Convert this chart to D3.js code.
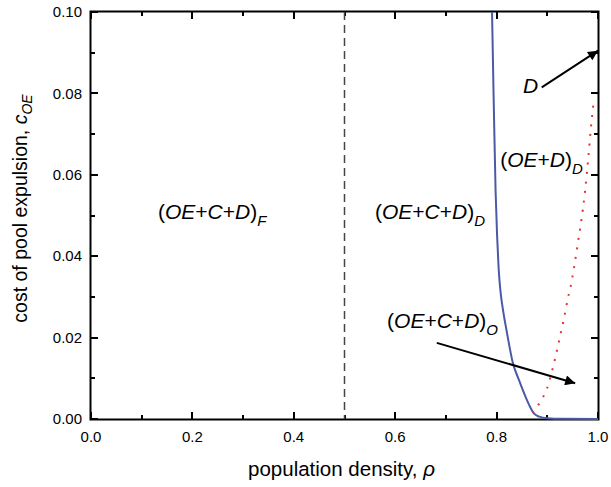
<!DOCTYPE html>
<html>
<head>
<meta charset="utf-8">
<script src="https://cdn.jsdelivr.net/npm/d3@7"></script>
<style>
  body { margin: 0; background: #fff; }
  svg { display: block; font-family: "Liberation Sans", Arial, sans-serif; }
</style>
</head>
<body>
<svg id="chart" width="611" height="487"></svg>
<script>
// boundary between OE+C+D and OE+D (blue solid)
var blueRho = [0.791, 0.794, 0.798, 0.801, 0.804, 0.808, 0.813, 0.820, 0.832, 0.844, 0.858, 0.866, 0.874, 0.884, 0.900, 0.930, 1.000];
var blueC   = [0.100, 0.080, 0.056, 0.045, 0.037, 0.031, 0.0265, 0.0215, 0.0138, 0.0096, 0.0052, 0.0030, 0.0013, 0.0006, 0.0002, 0.00005, 0.0];

// boundary between OE+D and D (red dotted)
var redRho = [0.871, 0.882, 0.891, 0.899, 0.909, 0.918, 0.926, 0.934, 0.941, 0.945, 0.960, 0.974, 0.981, 0.986, 0.992];
var redC   = [0.0015, 0.0034, 0.0052, 0.0074, 0.0116, 0.0163, 0.0208, 0.0254, 0.0299, 0.0320, 0.0430, 0.0555, 0.0644, 0.0715, 0.0786];

var criticalRho = 0.5;

var xTicks = [0.0, 0.2, 0.4, 0.6, 0.8, 1.0];
var yTicks = [0.00, 0.02, 0.04, 0.06, 0.08, 0.10];
var xMinor = [0.1, 0.3, 0.5, 0.7, 0.9];
var yMinor = [0.01, 0.03, 0.05, 0.07, 0.09];

// region labels: main text, subscript, anchor (rho, c)
var labelText = ["(OE+C+D)", "(OE+C+D)", "(OE+D)", "D", "(OE+C+D)"];
var labelSub  = ["F", "D", "D", "", "O"];
var labelRho  = [0.132, 0.560, 0.807, 0.852, 0.584];
var labelC    = [0.0491, 0.0491, 0.0619, 0.0801, 0.0224];

// arrows: from (rho, c) to (rho, c)
var arrowFrom = [[0.889, 0.0815], [0.682, 0.0187]];
var arrowTo   = [[1.000, 0.0905], [0.955, 0.0088]];

var margin = {top: 12, right: 13, bottom: 68, left: 91},
    width = 611 - margin.left - margin.right,
    height = 487 - margin.top - margin.bottom;

var svg = d3.select("#chart");

svg.append("defs").append("marker")
    .attr("id", "head")
    .attr("viewBox", "0 0 10 10")
    .attr("refX", 10).attr("refY", 5)
    .attr("markerWidth", 7.5).attr("markerHeight", 5)
    .attr("markerUnits", "strokeWidth")
    .attr("orient", "auto")
  .append("path")
    .attr("d", "M0,0 L10,5 L0,10 z")
    .attr("fill", "#000");

var g = svg.append("g").attr("transform", "translate(" + margin.left + "," + margin.top + ")");

var x = d3.scaleLinear().domain([0, 1]).range([0, width]);
var y = d3.scaleLinear().domain([0, 0.1]).range([height, 0]);

// frame
g.append("rect")
    .attr("x", -0.5).attr("y", -0.5)
    .attr("width", width + 1).attr("height", height + 1)
    .attr("fill", "none").attr("stroke", "#000").attr("stroke-width", 2);

// inward ticks on all four sides
var tickPath = d3.path();
function tickX(v, len) {
    var px = Math.round(x(v));
    tickPath.moveTo(px, height); tickPath.lineTo(px, height - len);
    tickPath.moveTo(px, 0); tickPath.lineTo(px, len);
}
function tickY(v, len) {
    var py = Math.round(y(v));
    tickPath.moveTo(0, py); tickPath.lineTo(len, py);
    tickPath.moveTo(width, py); tickPath.lineTo(width - len, py);
}
xTicks.forEach(function (v) { tickX(v, 7); });
xMinor.forEach(function (v) { tickX(v, 4); });
yTicks.forEach(function (v) { tickY(v, 7); });
yMinor.forEach(function (v) { tickY(v, 4); });
g.append("path")
    .attr("d", tickPath.toString())
    .attr("fill", "none").attr("stroke", "#000").attr("stroke-width", 2);

// tick labels
g.selectAll(null).data(xTicks).enter().append("text")
    .attr("x", x).attr("y", height + 23)
    .attr("text-anchor", "middle").attr("font-size", 15)
    .text(d3.format(".1f"));
g.selectAll(null).data(yTicks).enter().append("text")
    .attr("x", -9).attr("y", y).attr("dy", "0.35em")
    .attr("text-anchor", "end").attr("font-size", 15)
    .text(d3.format(".2f"));

// dashed critical density
g.append("line")
    .attr("x1", x(criticalRho)).attr("x2", x(criticalRho))
    .attr("y1", y(0.1)).attr("y2", y(0))
    .attr("stroke", "#444").attr("stroke-width", 1.5)
    .attr("stroke-dasharray", "8,5");

var line = d3.line()
    .x(function (d) { return x(d[0]); })
    .y(function (d) { return y(d[1]); })
    .curve(d3.curveMonotoneX);

g.append("path")
    .datum(d3.zip(blueRho, blueC))
    .attr("d", line)
    .attr("fill", "none").attr("stroke", "#4a5aa8").attr("stroke-width", 2);

g.append("path")
    .datum(d3.zip(redRho, redC))
    .attr("d", line)
    .attr("fill", "none").attr("stroke", "#e8322f").attr("stroke-width", 2)
    .attr("stroke-dasharray", "2,7.5");

// arrows
arrowFrom.forEach(function (a, i) {
    g.append("line")
        .attr("x1", x(a[0])).attr("y1", y(a[1]))
        .attr("x2", x(arrowTo[i][0])).attr("y2", y(arrowTo[i][1]))
        .attr("stroke", "#000").attr("stroke-width", 2)
        .attr("marker-end", "url(#head)");
});

// region labels
labelText.forEach(function (t, i) {
    var txt = g.append("text")
        .attr("x", x(labelRho[i])).attr("y", y(labelC[i]))
        .attr("font-size", 21).attr("fill", "#000");
    // italic variables, upright brackets and plus signs
    t.split(/([()+])/).filter(function (s) { return s.length; }).forEach(function (s) {
        txt.append("tspan").text(s)
            .attr("font-style", /[()+]/.test(s) ? "normal" : "italic");
    });
    if (labelSub[i]) {
        txt.append("tspan").text(labelSub[i])
            .attr("font-style", "italic").attr("font-size", 15).attr("dy", 7);
    }
});

// axis titles
g.append("text")
    .attr("x", width / 2 - 3).attr("y", height + 57)
    .attr("text-anchor", "middle").attr("font-size", 20.5)
    .text("population density, ")
  .append("tspan").attr("font-style", "italic").text("ρ");

var yt = g.append("text")
    .attr("transform", "translate(-64," + (height / 2 - 7) + ") rotate(-90)")
    .attr("text-anchor", "middle").attr("font-size", 19.5)
    .text("cost of pool expulsion, ");
yt.append("tspan").attr("font-style", "italic").text("c");
yt.append("tspan").attr("font-style", "italic").attr("font-size", 14).attr("dy", 5).text("OE");
</script>
</body>
</html>
